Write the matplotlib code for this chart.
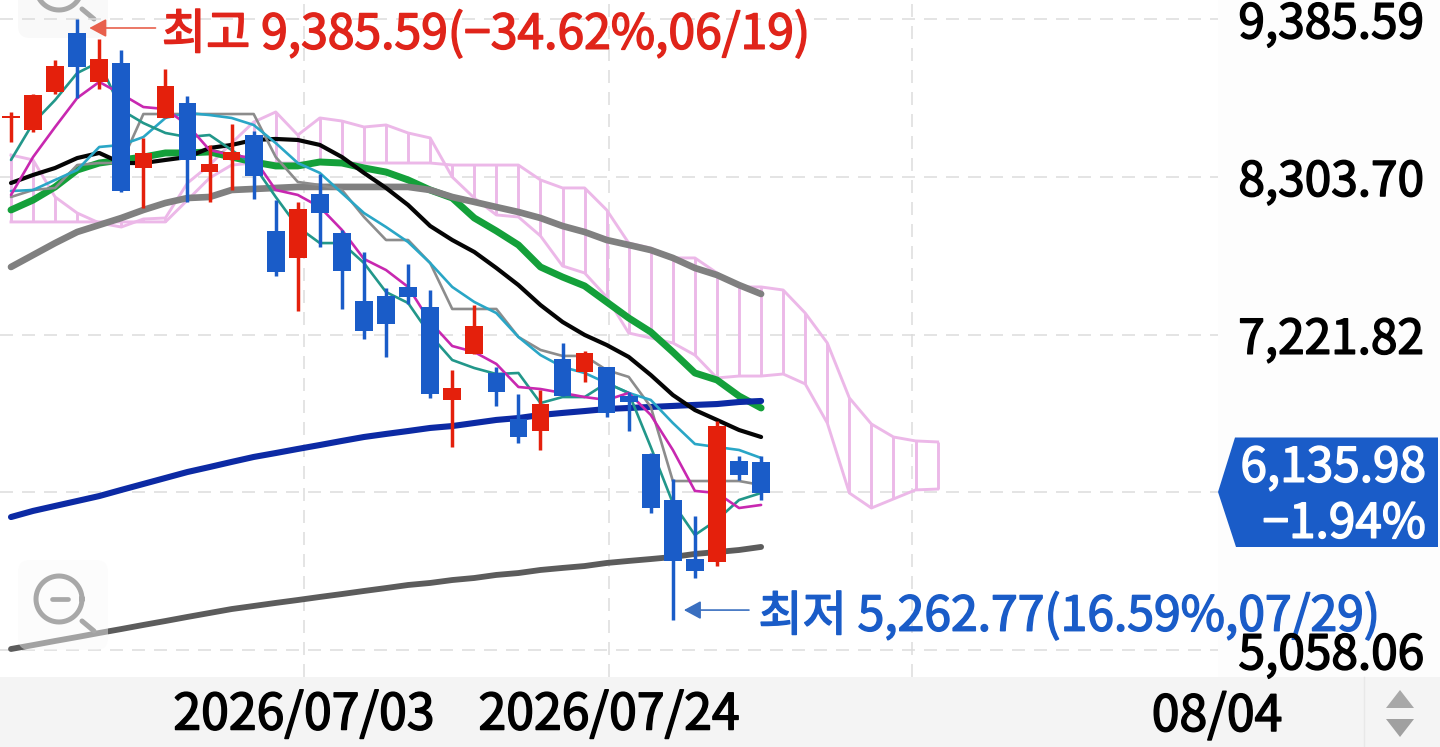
import math
import matplotlib
matplotlib.use("Agg")
import matplotlib.pyplot as plt
import matplotlib.patheffects as pe
from matplotlib.patches import Polygon, Rectangle, FancyBboxPatch
from matplotlib.lines import Line2D
from matplotlib.transforms import Affine2D, ScaledTranslation

W, H = 1440, 747
FONT = ['Noto Sans CJK KR', 'Noto Sans', 'DejaVu Sans']
plt.rcParams['font.family'] = FONT

# ---------- data ----------
opens  = [8707,8624,8885,9290,8954,9084,8364,8707,8810,8336,8419,8590,7932,7747,8186,7918,7452,7486,7548,7411,
          6773,7088,6958,6642,6560,7054,6965,6999,6800,6402,6087,5682,5662,6354,6348]
highs  = [8748,8870,9104,9385.59,9248,9173,8570,9043,8858,8522,8666,8618,8144,8131,8323,7939,7788,7541,7705,7527,
          6978,7424,6999,6814,6841,7164,7109,6999,6828,6409,6231,5977,6629,6389,6389]
lows   = [8542,8611,8871,8844,8906,8200,8089,8707,8131,8131,8213,8151,7623,7383,7822,7397,7191,7068,7431,6787,
          6450,7088,6732,6478,6430,6800,6896,6656,6560,5998,5262.77,5552,5634,6224,6087]
closes = [8720,8864,9063,9056,9111,8206,8467,8926,8419,8391,8474,8309,7651,8083,8055,7657,7246,7294,7479,6814,
          6855,7280,6828,6519,6745,6800,7095,6684,6759,6032,5669,5600,6594,6258,6135.98]

ma_magenta = [8179,8439,8645,8844,8954,8871,8782,8768,8659,8487,8453,8432,8213,8179,8096,7939,7740,7664,7548,7308,
              7143,7102,7020,6862,6848,6821,6793,6773,6821,6670,6430,6149,6135,6032,6053]
ma_teal = [8419,8672,8830,9015,9091,8762,8672,8604,8576,8590,8487,8384,8165,7959,7849,7849,7712,7513,7438,7219,
           7047,6992,6951,6958,6752,6793,6793,6889,6821,6450,6066,5847,5950,6087,6135]
ma_cyan = [8206,8213,8282,8350,8508,8522,8576,8707,8741,8727,8707,8659,8535,8398,8330,8192,8055,7959,7856,7712,
           7548,7445,7369,7205,7081,6999,6958,6889,6821,6773,6615,6471,6450,6430,6375]
ma_gray_thin = [8165,8213,8227,8384,8398,8398,8734,8734,8734,8734,8734,8734,8439,8268,8247,8213,8028,7870,7870,7712,
                7397,7397,7397,7205,7116,7075,7075,6978,6931,6725,6217,6217,6217,6217,6190]
ma_black = [8261,8316,8364,8432,8467,8398,8398,8419,8439,8501,8522,8556,8563,8556,8522,8439,8330,8227,8110,7966,
            7870,7788,7678,7561,7424,7308,7219,7150,7068,6944,6807,6704,6636,6567,6519]
ma_green = [8076,8144,8234,8350,8398,8419,8439,8467,8467,8474,8439,8405,8378,8378,8405,8398,8364,8336,8282,8213,
            8158,8021,7932,7836,7685,7616,7555,7445,7335,7239,7102,6958,6910,6800,6718]
ma_gray_thick = [7685,7767,7849,7925,7973,8021,8076,8124,8158,8165,8213,8220,8227,8234,8234,8234,8234,8234,8234,8213,
                 8165,8131,8096,8062,8021,7966,7925,7870,7836,7801,7747,7678,7630,7561,7500]
ma_navy = [5970,6012,6046,6080,6114,6156,6197,6238,6279,6313,6348,6382,6409,6437,6464,6492,6519,6540,6560,6581,
           6594,6615,6636,6649,6670,6684,6697,6711,6718,6725,6732,6739,6745,6759,6766]
ma_dark = [5065,5092,5120,5147,5175,5202,5230,5257,5285,5312,5339,5360,5381,5401,5422,5442,5463,5483,5504,5518,
           5538,5552,5573,5586,5607,5621,5634,5655,5669,5682,5696,5717,5730,5744,5765]
span_a = [8453,8419,8165,8055,7987,7959,8014,8021,8261,8384,8535,8679,8748,8590,8707,8686,8645,8659,8604,8570,
          8302,8158,8042,8028,7898,7692,7644,7479,7232,7198,7164,7081,6924,6937,6937,6951,6883,6615,6135,6032,6094,6156,6162]
span_b = [7994,7994,7994,7994,7994,7994,7994,7994,8144,8295,8384,8398,8398,8398,8398,8398,8398,8398,8398,8398,
          8384,8384,8384,8384,8282,8227,8227,8076,7849,7815,7747,7747,7644,7548,7548,7527,7369,7164,6787,6608,6519,6492,6485]

y_ticks = [9385.59, 8303.70, 7221.82, 6139.94, 5058.06]
y_labels = ['9,385.59', '8,303.70', '7,221.82', '', '5,058.06']
x_grid = [13.28, 27.11, 40.85]
x_labels = ['2026/07/03', '2026/07/24', '']
last_price = '6,135.98'
last_change = '\u22121.94%'
high_label = '최고 9,385.59(\u221234.62%,06/19)'
low_label = '최저 5,262.77(16.59%,07/29)'
end_label = '08/04'

RED, BLUE = '#e4200c', '#1a5cc8'
CLOUD = '#ecb8e8'

def heavy(t, col):
    t.set_path_effects([pe.withStroke(linewidth=1.1, foreground=col)])
    return t

fig = plt.figure(figsize=(W/100, H/100), dpi=100, facecolor='white')
PX = Affine2D().scale(1/W, -1/H).translate(0, 1) + fig.transFigure

# panels beneath the axes
fig.add_artist(Rectangle((1218, 0), 222, 678, transform=PX, fc='#fdfdfd', ec='none', zorder=-2))
fig.add_artist(Rectangle((0, 677), W, 70, transform=PX, fc='#f4f4f4', ec='none', zorder=-1))
fig.add_artist(Line2D([1364, 1364], [677, 747], transform=PX, color='#e8e8e8', lw=1, zorder=-1))

ax = fig.add_axes([0, 70/H, 1218/W, 677/H], zorder=1)
ax.patch.set_alpha(0)
ax.set_xlim(-0.4986, 54.71)
ax.set_ylim(4873, 9516)
for s in ax.spines.values():
    s.set_visible(False)
ax.set_axisbelow(True)
ax.set_yticks(y_ticks)
ax.set_xticks(x_grid)
ax.set_xticklabels(x_labels, fontsize=36, color='black')
for lab in ax.get_xticklabels():
    heavy(lab, 'black')
ax.tick_params(axis='x', length=0, pad=9)
ax.tick_params(axis='y', length=0, labelleft=False)
ax.grid(True, color='#dcdcdc', lw=1.1, dashes=(8.5, 5.9))

# Ichimoku cloud
xc = list(range(len(span_a)))
ax.vlines(xc, span_a, span_b, color=CLOUD, lw=2.1, zorder=2)
ax.plot(xc, span_a, color=CLOUD, lw=2.1, zorder=2)
ax.plot(xc, span_b, color=CLOUD, lw=2.1, zorder=2)

# moving averages
xm = list(range(len(closes)))
styles = [(ma_green, '#14a03a', 5.0, 2.2), (ma_gray_thick, '#808080', 4.8, 2.3), (ma_dark, '#5c5c5c', 4.2, 2.4),
          (ma_navy, '#0c2aa4', 4.4, 2.5), (ma_black, '#050505', 3.0, 2.6), (ma_gray_thin, '#8c8c8c', 1.9, 2.7),
          (ma_cyan, '#2aa6c6', 1.9, 2.75), (ma_teal, '#22978a', 1.9, 2.8), (ma_magenta, '#c828b0', 1.9, 2.85)]
for vals, col, lw, z in styles:
    ax.plot(xm, vals, color=col, lw=lw, zorder=z, solid_capstyle='round', solid_joinstyle='round')

# candles
cols = [RED if c >= o else BLUE for o, c in zip(opens, closes)]
ax.vlines(xm, lows, highs, colors=cols, lw=2.5, zorder=3)
ax.bar(xm, [abs(c-o) for o, c in zip(opens, closes)], bottom=[min(o, c) for o, c in zip(opens, closes)],
       width=0.8, color=cols, zorder=3.1)

# high / low callouts
ax.annotate('', xy=(3.55, 9324), xytext=(6.55, 9324),
            arrowprops=dict(arrowstyle='-|>,head_length=0.65,head_width=0.35', mutation_scale=16,
                            color='#e8604c', lw=1.2, shrinkA=0, shrinkB=0), zorder=4)
heavy(ax.text(6.84, 9276, high_label, color='#e0241a', fontsize=34.6, va='center', ha='left',
              clip_on=False, zorder=4), '#e0241a')
ax.annotate('', xy=(30.5, 5332), xytext=(33.45, 5332),
            arrowprops=dict(arrowstyle='-|>,head_length=0.65,head_width=0.35', mutation_scale=16,
                            color='#3a6fc0', lw=1.2, shrinkA=0, shrinkB=0), zorder=4)
heavy(ax.text(33.88, 5285, low_label, color=BLUE, fontsize=34.6, va='center', ha='left',
              clip_on=False, zorder=4), BLUE)

# price axis panel on top of the callout text
ar = fig.add_axes([1218/W, 70/H, 222/W, 677/H], zorder=2, sharey=ax)
ar.patch.set_alpha(0)
for s in ar.spines.values():
    s.set_visible(False)
ar.set_xticks([])
ar.yaxis.tick_right()
ar.set_yticks(y_ticks)
ar.set_yticklabels(y_labels, fontsize=34.4, color='black', ha='right', va='center')
ar.tick_params(axis='y', length=0, pad=-11.5)
off = ScaledTranslation(0, -5.5/100, fig.dpi_scale_trans)
for lab in ar.get_yticklabels():
    lab.set_transform(lab.get_transform() + off)
    heavy(lab, 'black')

# last price flag
fig.add_artist(Polygon([(1218, 492), (1235, 437.5), (1438, 437.5), (1438, 547), (1236, 547)], closed=True,
                       transform=PX, fc=BLUE, ec='none', zorder=3))
def ftext(x, y, s, col, size=34.4, **kw):
    t = fig.text(x/W, 1-y/H, s, fontsize=size, family=FONT, color=col, zorder=4, va='center', **kw)
    heavy(t, col)
ftext(1426, 468, last_price, 'white', ha='right')
ftext(1426, 524, last_change, 'white', ha='right')
ftext(1217, 717, end_label, 'black', size=36, ha='center')

# zoom buttons: the upper one sits behind the marks, the lower one veils them
for cy, minus, zbg in [(-13, False, 0.5), (599, True, 5)]:
    fig.add_artist(FancyBboxPatch((24, cy-33), 78, 78, boxstyle='round,pad=6,rounding_size=12', transform=PX,
                                  fc=(0.975, 0.975, 0.975, 1.0 if zbg < 1 else 0.45), ec='none', zorder=zbg))
    theta = [i/60*2*math.pi for i in range(61)]
    fig.add_artist(Line2D([82, 94], [cy+22, cy+32], transform=PX, color='#a8a8a8', lw=3.6, zorder=zbg+0.1,
                          solid_capstyle='round'))
    fig.add_artist(Line2D([59+23*math.cos(t) for t in theta], [cy+23*math.sin(t) for t in theta],
                          transform=PX, color='#a8a8a8', lw=3.6, zorder=zbg+0.1))
    if minus:
        fig.add_artist(Line2D([52, 68], [cy, cy], transform=PX, color='#a8a8a8', lw=3.4, zorder=zbg+0.1,
                              solid_capstyle='round'))

# scroll arrows
fig.add_artist(Polygon([(1400, 690), (1386, 708), (1414, 708)], closed=True, transform=PX, fc='#a8a8a8', ec='none', zorder=3))
fig.add_artist(Polygon([(1386, 719), (1414, 719), (1400, 737)], closed=True, transform=PX, fc='#a0a0a0', ec='none', zorder=3))

fig.savefig('out.png', dpi=100, facecolor='white')
